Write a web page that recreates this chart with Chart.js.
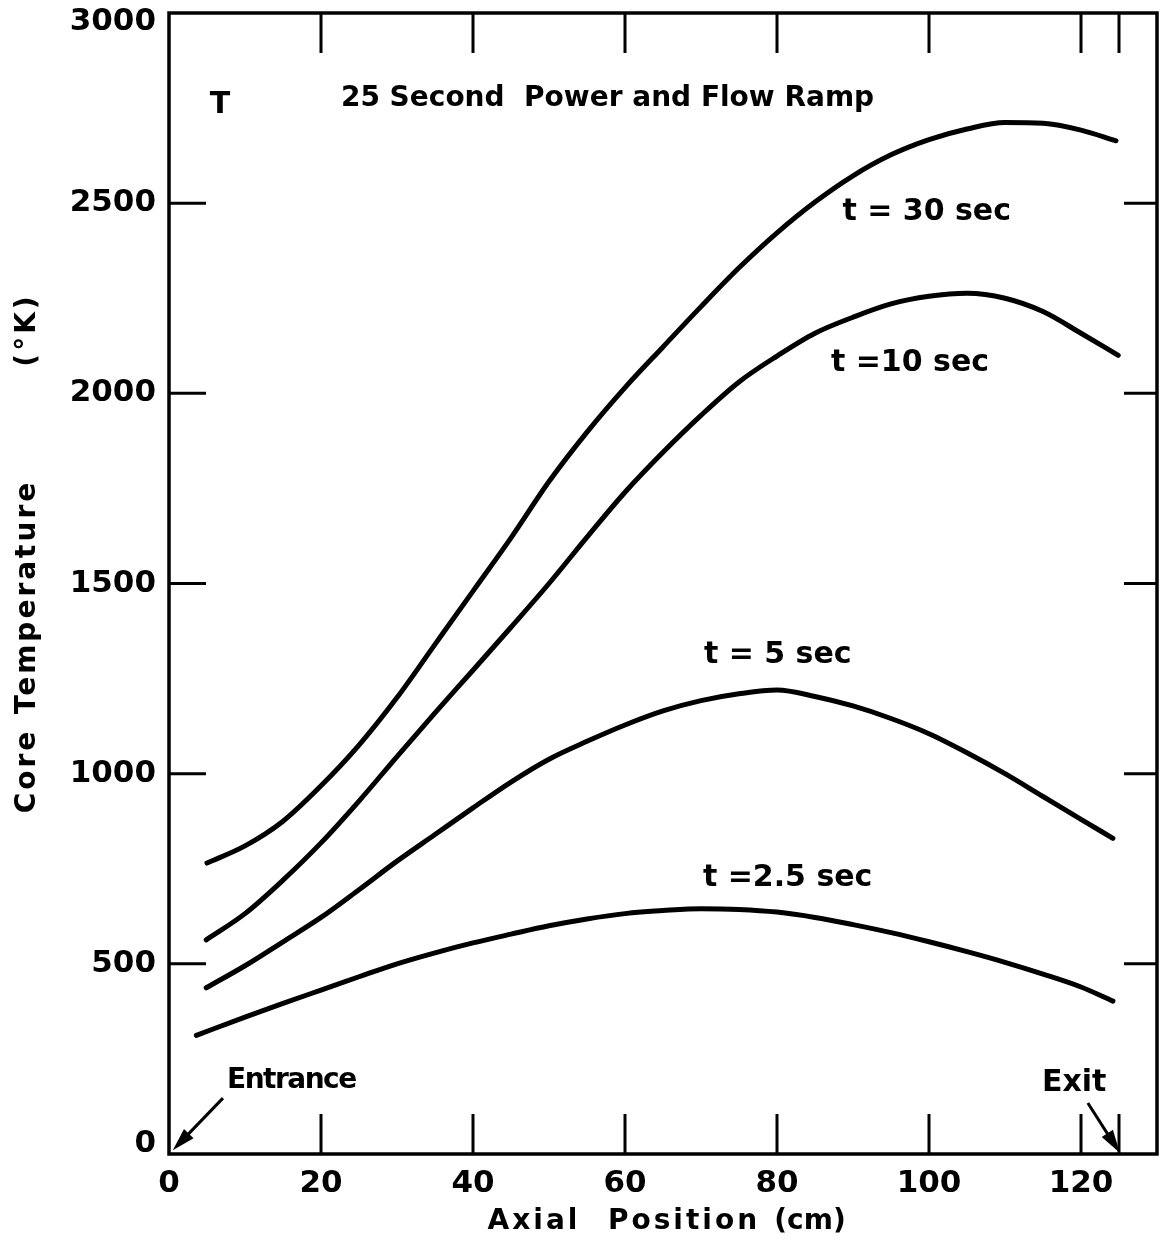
<!DOCTYPE html>
<html>
<head>
<meta charset="utf-8">
<script src="https://cdn.jsdelivr.net/npm/chart.js@4/dist/chart.umd.min.js"></script>
<style>
  body { margin: 0; background: #fff; }
  canvas { display: block; }
</style>
</head>
<body>
<canvas id="coreTemp" width="1162" height="1243"></canvas>
<script>
// axial positions (cm) and core temperatures (K)
var pos30 = [5, 10, 15, 20, 25, 30, 35, 40, 45, 50, 55, 60, 65, 70, 75, 80, 85, 90, 95, 100, 105, 110, 115, 120, 124.6];
var temp30 = [765, 810, 875, 968, 1075, 1200, 1340, 1480, 1620, 1768, 1898, 2015, 2122, 2228, 2330, 2422, 2503, 2572, 2627, 2667, 2695, 2712, 2710, 2692, 2664];

var pos10 = [4.9, 10, 15, 20, 25, 30, 35, 40, 45, 50, 55, 60, 65, 70, 75, 80, 85, 90, 95, 100, 105, 110, 115, 120, 124.9];
var temp10 = [563, 632, 720, 818, 928, 1045, 1160, 1272, 1385, 1500, 1622, 1740, 1845, 1942, 2030, 2098, 2158, 2200, 2235, 2255, 2263, 2250, 2215, 2158, 2100];

var pos5 = [4.9, 10, 15, 20, 25, 30, 35, 40, 45, 50, 55, 60, 65, 70, 75, 80, 85, 90, 95, 100, 105, 110, 115, 120, 124.2];
var temp5 = [437, 495, 558, 622, 695, 770, 840, 910, 978, 1038, 1085, 1128, 1165, 1192, 1210, 1220, 1203, 1178, 1145, 1105, 1055, 1000, 940, 880, 830];

var pos25 = [3.6, 10, 15, 20, 25, 30, 35, 40, 45, 50, 55, 60, 65, 70, 75, 80, 85, 90, 95, 100, 105, 110, 115, 120, 124.2];
var temp25 = [312, 360, 396, 431, 466, 500, 529, 555, 578, 600, 618, 632, 640, 645, 643, 636, 622, 603, 582, 558, 532, 504, 473, 439, 402];

var xLabelValues = [0, 20, 40, 60, 80, 100, 120];
var xTickMarks = [0, 20, 40, 60, 80, 100, 120, 125];
var yTickValues = [0, 500, 1000, 1500, 2000, 2500, 3000];

// text notes inside the plot, in data units
var noteText = ["T", "25 Second  Power and Flow Ramp", "t = 30 sec", "t =10 sec", "t = 5 sec", "t =2.5 sec", "Entrance", "Exit"];
var noteX = [6.7, 57.7, 99.7, 97.5, 80.1, 81.4, 16.1, 119.1];
var noteY = [2758, 2775, 2477, 2080, 1312, 726, 192, 187];

// arrows from Entrance / Exit labels to the axis
var arrowFromX = [7.1, 120.9];
var arrowFromY = [147, 134];
var arrowToX = [0.5, 125.1];
var arrowToY = [10, 3];

// axis title words and their centres (pixels along the axis)
var xTitleWords = ["Axial", "Position", "(cm)"];
var xTitleAt = [534, 684, 810];
var yTitleWords = ["Core", "Temperature", "(°K)"];
var yTitleAt = [771, 597, 330];

function toPoints(xs, ys) {
    var pts = [];
    for (var i = 0; i < xs.length; i++) {
        pts.push({x: xs[i], y: ys[i]});
    }
    return pts;
}

function curve(xs, ys) {
    return {
        data: toPoints(xs, ys),
        showLine: true,
        borderColor: "#000",
        borderWidth: 5,
        pointRadius: 0,
        cubicInterpolationMode: "monotone",
        borderCapStyle: "round"
    };
}

var FONT = "DejaVu Sans";
var TICK_FONT = "bold 31px " + FONT;

var framePlugin = {
    id: "frame",
    afterDraw: function (chart) {
        var ctx = chart.ctx;
        var a = chart.chartArea;
        var xs = chart.scales.x;
        var ys = chart.scales.y;
        ctx.save();
        ctx.strokeStyle = "#000";
        ctx.fillStyle = "#000";

        // frame
        ctx.lineWidth = 3.5;
        ctx.strokeRect(a.left, a.top, a.right - a.left, a.bottom - a.top);

        // inward ticks
        ctx.lineWidth = 3;
        ctx.beginPath();
        xTickMarks.forEach(function (v) {
            var px = xs.getPixelForValue(v);
            if (v === 0) return;
            ctx.moveTo(px, a.bottom); ctx.lineTo(px, a.bottom - 40);
            ctx.moveTo(px, a.top); ctx.lineTo(px, a.top + 40);
        });
        yTickValues.forEach(function (v) {
            var py = ys.getPixelForValue(v);
            if (v === 0 || v === 3000) return;
            ctx.moveTo(a.left, py); ctx.lineTo(a.left + 37, py);
            ctx.moveTo(a.right, py); ctx.lineTo(a.right - 33, py);
        });
        ctx.stroke();

        // end labels of the y axis sit inside the frame height
        ctx.font = TICK_FONT;
        ctx.textAlign = "right";
        ctx.textBaseline = "middle";
        ctx.fillText("3000", a.left - 13, ys.getPixelForValue(3000) + 9);
        ctx.fillText("0", a.left - 13, ys.getPixelForValue(0) - 10);

        // notes
        ctx.textAlign = "center";
        for (var i = 0; i < noteText.length; i++) {
            var size = 30;
            ctx.letterSpacing = "0px";
            if (i === 1) size = 28;
            if (noteText[i] === "Entrance") {
                size = 28;
                ctx.letterSpacing = "-1.5px";
            }
            ctx.font = "bold " + size + "px " + FONT;
            ctx.fillText(noteText[i], xs.getPixelForValue(noteX[i]), ys.getPixelForValue(noteY[i]));
        }
        ctx.letterSpacing = "0px";

        // arrows
        ctx.lineWidth = 3;
        for (var j = 0; j < arrowFromX.length; j++) {
            var x1 = xs.getPixelForValue(arrowFromX[j]), y1 = ys.getPixelForValue(arrowFromY[j]);
            var x2 = xs.getPixelForValue(arrowToX[j]), y2 = ys.getPixelForValue(arrowToY[j]);
            var ang = Math.atan2(y2 - y1, x2 - x1);
            ctx.beginPath();
            ctx.moveTo(x1, y1);
            ctx.lineTo(x2 - 14 * Math.cos(ang), y2 - 14 * Math.sin(ang));
            ctx.stroke();
            ctx.beginPath();
            ctx.moveTo(x2, y2);
            ctx.lineTo(x2 - 24 * Math.cos(ang - 0.28), y2 - 24 * Math.sin(ang - 0.28));
            ctx.lineTo(x2 - 24 * Math.cos(ang + 0.28), y2 - 24 * Math.sin(ang + 0.28));
            ctx.closePath();
            ctx.fill();
        }

        // axis titles
        ctx.font = "bold 28px " + FONT;
        for (var k = 0; k < xTitleWords.length; k++) {
            ctx.letterSpacing = k === 2 ? "0px" : "3px";
            ctx.fillText(xTitleWords[k], xTitleAt[k], 1222);
        }
        ctx.save();
        ctx.translate(28, 0);
        ctx.rotate(-Math.PI / 2);
        ctx.letterSpacing = "3px";
        for (var m = 0; m < yTitleWords.length; m++) {
            ctx.fillText(yTitleWords[m], -yTitleAt[m], 0);
        }
        ctx.restore();
        ctx.restore();
    }
};

var chartEl = document.getElementById("coreTemp");
var coreChart = new Chart(chartEl, {
    type: "scatter",
    data: {
        datasets: [
            curve(pos30, temp30),
            curve(pos10, temp10),
            curve(pos5, temp5),
            curve(pos25, temp25)
        ]
    },
    options: {
        responsive: false,
        animation: false,
        devicePixelRatio: 1,
        layout: { padding: { left: 0, right: 5, top: 13, bottom: 0 } },
        plugins: {
            legend: { display: false },
            tooltip: { enabled: false }
        },
        scales: {
            x: {
                type: "linear",
                min: 0,
                max: 130,
                grid: { display: false, drawTicks: false },
                border: { display: false },
                afterFit: function (s) {
                    s.height = 89;
                    s.paddingLeft = 0;
                    s.paddingRight = 0;
                },
                afterBuildTicks: function (s) {
                    s.ticks = xLabelValues.map(function (v) { return {value: v}; });
                },
                ticks: {
                    padding: 11,
                    color: "#000",
                    maxRotation: 0,
                    callback: function (v) { return String(v); },
                    font: { family: FONT, size: 31, weight: "bold" }
                }
            },
            y: {
                type: "linear",
                min: 0,
                max: 3000,
                grid: { display: false, drawTicks: false },
                border: { display: false },
                afterFit: function (s) {
                    s.width = 169;
                    s.paddingTop = 0;
                    s.paddingBottom = 0;
                },
                afterBuildTicks: function (s) {
                    s.ticks = yTickValues.map(function (v) { return {value: v}; });
                },
                ticks: {
                    padding: 13,
                    color: "#000",
                    // 0 and 3000 are drawn by the frame plugin, nudged inwards
                    callback: function (v) { return (v === 0 || v === 3000) ? "" : String(v); },
                    font: { family: FONT, size: 31, weight: "bold" }
                }
            }
        }
    },
    plugins: [framePlugin]
});
</script>
</body>
</html>
